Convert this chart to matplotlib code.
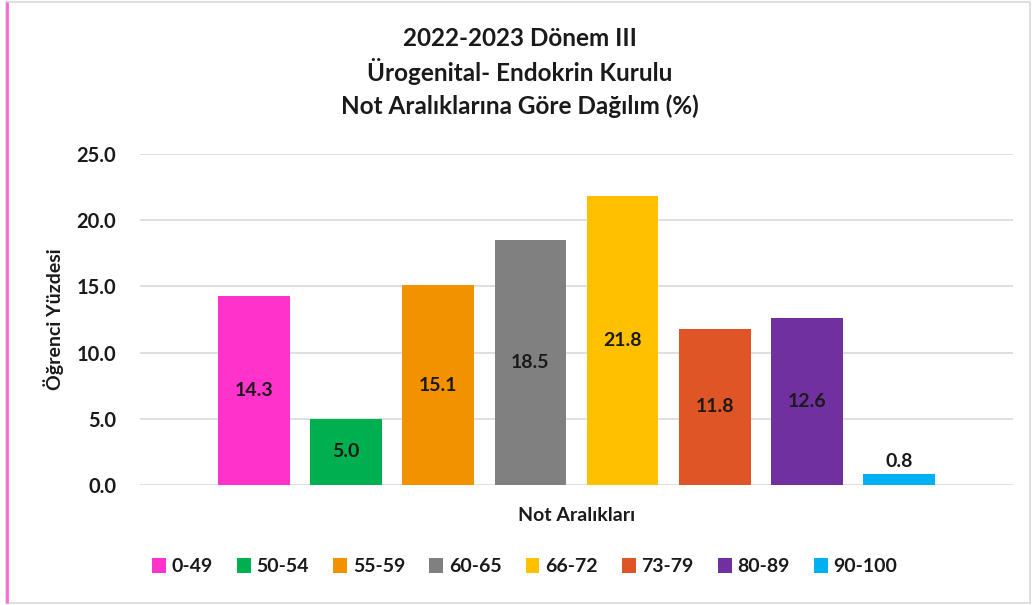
import matplotlib.pyplot as plt
from matplotlib.patches import Rectangle

categories = ['0-49', '50-54', '55-59', '60-65', '66-72', '73-79', '80-89', '90-100']
values = [14.3, 5.0, 15.1, 18.5, 21.8, 11.8, 12.6, 0.8]
colors = ['#FF33CC', '#00B050', '#F39200', '#808080', '#FFC000', '#E05526', '#7030A0', '#00B0F0']
yticks = [0, 5, 10, 15, 20, 25]

plt.rcParams['font.family'] = ['Lato', 'DejaVu Sans']
plt.rcParams['font.weight'] = 'bold'

fig = plt.figure(figsize=(10.33, 6.05), dpi=100)
ax = fig.add_axes([0.1355, 0.1983, 0.8451, 0.5472])

x = list(range(len(categories)))
bars = ax.bar(x, values, width=0.78, color=colors, zorder=3)

for xi, v in zip(x, values):
    if v > 2:
        ax.text(xi, v / 2, f'{v:.1f}', ha='center', va='center', fontsize=14, fontweight='bold', color='#1a1a1a', zorder=4)
    else:
        ax.text(xi, v + 0.3, f'{v:.1f}', ha='center', va='bottom', fontsize=14, fontweight='bold', color='#1a1a1a', zorder=4)

ax.set_ylim(0, 25)
ax.set_xlim(-1.24, 8.24)
ax.set_yticks(yticks)
ax.set_yticklabels([f'{t:.1f}' for t in yticks], fontsize=14.5, fontweight='bold', color='#1a1a1a')
ax.set_xticks([])
ax.grid(axis='y', color='#d9d9d9', linewidth=1.2, zorder=0)
ax.tick_params(axis='y', length=0, pad=17)
for s in ax.spines.values():
    s.set_visible(False)

ax.set_ylabel('Öğrenci Yüzdesi', fontsize=14, fontweight='bold', color='#1a1a1a')
ax.yaxis.set_label_coords(-0.087, 0.5)
ax.set_xlabel('Not Aralıkları', fontsize=14, fontweight='bold', color='#1a1a1a', labelpad=16)

fig.text(0.503, 0.937, '2022-2023 Dönem III', ha='center', va='center', fontsize=17.5, fontweight='bold', color='#1a1a1a')
fig.text(0.503, 0.881, 'Ürogenital- Endokrin Kurulu', ha='center', va='center', fontsize=17.5, fontweight='bold', color='#1a1a1a')
fig.text(0.503, 0.824, 'Not Aralıklarına Göre Dağılım (%)', ha='center', va='center', fontsize=17.5, fontweight='bold', color='#1a1a1a')

leg = fig.legend(bars, categories, loc='center', bbox_to_anchor=(0.508, 0.063), ncol=8, frameon=False,
                 fontsize=14, handlelength=0.7, handleheight=0.8, handletextpad=0.3, columnspacing=1.25)
for t in leg.get_texts():
    t.set_color('#1a1a1a')

# outer frame
fig.patches.append(Rectangle((0.006, 0.004), 0.991, 0.992, transform=fig.transFigure,
                             fill=False, edgecolor='#d9d9d9', linewidth=1.2))
fig.patches.append(Rectangle((0.0065, 0.004), 0.0, 0.992, transform=fig.transFigure,
                             fill=False, edgecolor='#FF66D9', linewidth=2))

fig.savefig('out.png', dpi=100)
